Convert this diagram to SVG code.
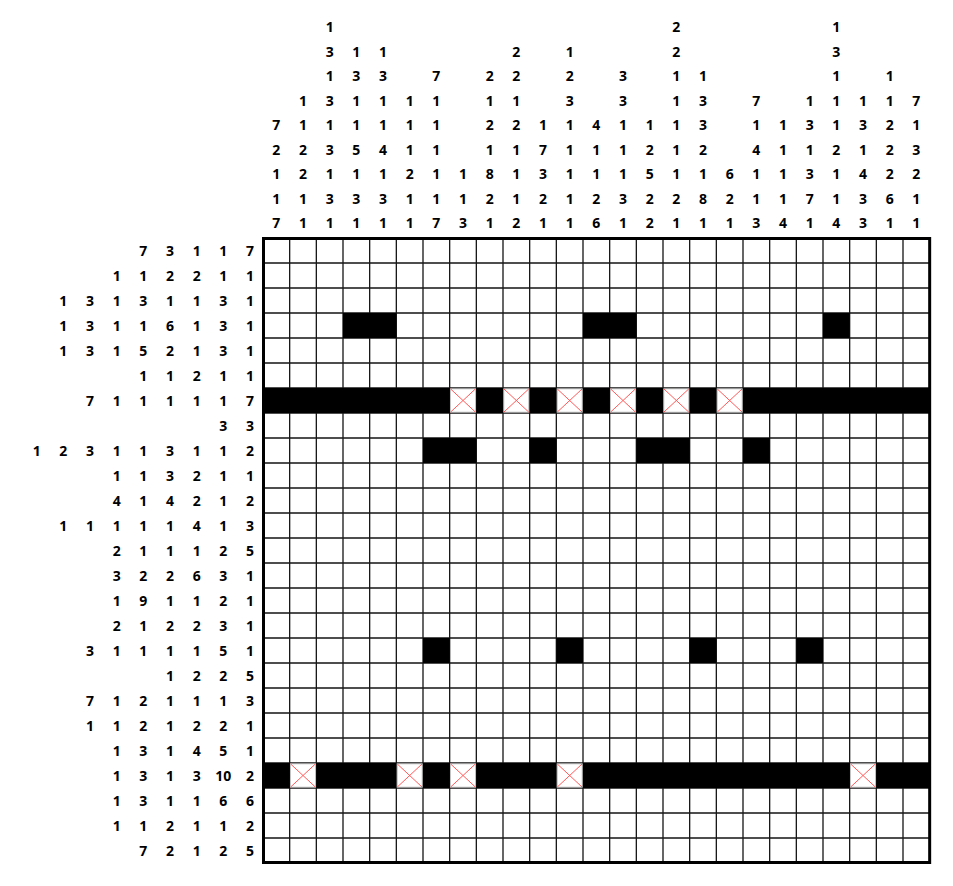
<svg xmlns="http://www.w3.org/2000/svg" width="953" height="886" viewBox="0 0 953 886">
<style>
text{font-family:"Open Sans","Liberation Sans",sans-serif;font-weight:700;font-size:14px;fill:#000;text-anchor:middle}
.f{fill:#000}
.xc{fill:#fff;stroke:#c4c4c4;stroke-width:1}
.xl{stroke:#ff5a5a;stroke-width:1;fill:none}
.g{stroke:#151515;stroke-width:1.3;fill:none}
</style>
<rect width="953" height="886" fill="#fff"/>
<g id="column-clues">
<text x="276.33" y="130">7</text><text x="276.33" y="154.5">2</text><text x="276.33" y="179">1</text><text x="276.33" y="203.5">1</text><text x="276.33" y="228">7</text>
<text x="303" y="105.5">1</text><text x="303" y="130">1</text><text x="303" y="154.5">2</text><text x="303" y="179">2</text><text x="303" y="203.5">1</text><text x="303" y="228">1</text>
<text x="329.67" y="32">1</text><text x="329.67" y="56.5">3</text><text x="329.67" y="81">1</text><text x="329.67" y="105.5">3</text><text x="329.67" y="130">1</text><text x="329.67" y="154.5">3</text><text x="329.67" y="179">1</text><text x="329.67" y="203.5">3</text><text x="329.67" y="228">1</text>
<text x="356.33" y="56.5">1</text><text x="356.33" y="81">3</text><text x="356.33" y="105.5">1</text><text x="356.33" y="130">1</text><text x="356.33" y="154.5">5</text><text x="356.33" y="179">1</text><text x="356.33" y="203.5">3</text><text x="356.33" y="228">1</text>
<text x="383" y="56.5">1</text><text x="383" y="81">3</text><text x="383" y="105.5">1</text><text x="383" y="130">1</text><text x="383" y="154.5">4</text><text x="383" y="179">1</text><text x="383" y="203.5">3</text><text x="383" y="228">1</text>
<text x="409.67" y="105.5">1</text><text x="409.67" y="130">1</text><text x="409.67" y="154.5">1</text><text x="409.67" y="179">2</text><text x="409.67" y="203.5">1</text><text x="409.67" y="228">1</text>
<text x="436.33" y="81">7</text><text x="436.33" y="105.5">1</text><text x="436.33" y="130">1</text><text x="436.33" y="154.5">1</text><text x="436.33" y="179">1</text><text x="436.33" y="203.5">1</text><text x="436.33" y="228">7</text>
<text x="463" y="179">1</text><text x="463" y="203.5">1</text><text x="463" y="228">3</text>
<text x="489.67" y="81">2</text><text x="489.67" y="105.5">1</text><text x="489.67" y="130">2</text><text x="489.67" y="154.5">1</text><text x="489.67" y="179">8</text><text x="489.67" y="203.5">2</text><text x="489.67" y="228">1</text>
<text x="516.33" y="56.5">2</text><text x="516.33" y="81">2</text><text x="516.33" y="105.5">1</text><text x="516.33" y="130">2</text><text x="516.33" y="154.5">1</text><text x="516.33" y="179">1</text><text x="516.33" y="203.5">1</text><text x="516.33" y="228">2</text>
<text x="543" y="130">1</text><text x="543" y="154.5">7</text><text x="543" y="179">3</text><text x="543" y="203.5">2</text><text x="543" y="228">1</text>
<text x="569.67" y="56.5">1</text><text x="569.67" y="81">2</text><text x="569.67" y="105.5">3</text><text x="569.67" y="130">1</text><text x="569.67" y="154.5">1</text><text x="569.67" y="179">1</text><text x="569.67" y="203.5">1</text><text x="569.67" y="228">1</text>
<text x="596.33" y="130">4</text><text x="596.33" y="154.5">1</text><text x="596.33" y="179">1</text><text x="596.33" y="203.5">2</text><text x="596.33" y="228">6</text>
<text x="623" y="81">3</text><text x="623" y="105.5">3</text><text x="623" y="130">1</text><text x="623" y="154.5">1</text><text x="623" y="179">1</text><text x="623" y="203.5">3</text><text x="623" y="228">1</text>
<text x="649.67" y="130">1</text><text x="649.67" y="154.5">2</text><text x="649.67" y="179">5</text><text x="649.67" y="203.5">2</text><text x="649.67" y="228">2</text>
<text x="676.33" y="32">2</text><text x="676.33" y="56.5">2</text><text x="676.33" y="81">1</text><text x="676.33" y="105.5">1</text><text x="676.33" y="130">1</text><text x="676.33" y="154.5">1</text><text x="676.33" y="179">1</text><text x="676.33" y="203.5">2</text><text x="676.33" y="228">1</text>
<text x="703" y="81">1</text><text x="703" y="105.5">3</text><text x="703" y="130">3</text><text x="703" y="154.5">2</text><text x="703" y="179">1</text><text x="703" y="203.5">8</text><text x="703" y="228">1</text>
<text x="729.67" y="179">6</text><text x="729.67" y="203.5">2</text><text x="729.67" y="228">1</text>
<text x="756.33" y="105.5">7</text><text x="756.33" y="130">1</text><text x="756.33" y="154.5">4</text><text x="756.33" y="179">1</text><text x="756.33" y="203.5">1</text><text x="756.33" y="228">3</text>
<text x="783" y="130">1</text><text x="783" y="154.5">1</text><text x="783" y="179">1</text><text x="783" y="203.5">1</text><text x="783" y="228">4</text>
<text x="809.67" y="105.5">1</text><text x="809.67" y="130">3</text><text x="809.67" y="154.5">1</text><text x="809.67" y="179">3</text><text x="809.67" y="203.5">7</text><text x="809.67" y="228">1</text>
<text x="836.33" y="32">1</text><text x="836.33" y="56.5">3</text><text x="836.33" y="81">1</text><text x="836.33" y="105.5">1</text><text x="836.33" y="130">1</text><text x="836.33" y="154.5">2</text><text x="836.33" y="179">1</text><text x="836.33" y="203.5">1</text><text x="836.33" y="228">4</text>
<text x="863" y="105.5">1</text><text x="863" y="130">3</text><text x="863" y="154.5">1</text><text x="863" y="179">4</text><text x="863" y="203.5">3</text><text x="863" y="228">3</text>
<text x="889.67" y="81">1</text><text x="889.67" y="105.5">1</text><text x="889.67" y="130">2</text><text x="889.67" y="154.5">2</text><text x="889.67" y="179">2</text><text x="889.67" y="203.5">6</text><text x="889.67" y="228">1</text>
<text x="916.33" y="105.5">7</text><text x="916.33" y="130">1</text><text x="916.33" y="154.5">3</text><text x="916.33" y="179">2</text><text x="916.33" y="203.5">1</text><text x="916.33" y="228">1</text>
</g>
<g id="row-clues">
<text x="143.33" y="255.5">7</text><text x="170" y="255.5">3</text><text x="196.67" y="255.5">1</text><text x="223.33" y="255.5">1</text><text x="250" y="255.5">7</text>
<text x="116.67" y="280.5">1</text><text x="143.33" y="280.5">1</text><text x="170" y="280.5">2</text><text x="196.67" y="280.5">2</text><text x="223.33" y="280.5">1</text><text x="250" y="280.5">1</text>
<text x="63.33" y="305.5">1</text><text x="90" y="305.5">3</text><text x="116.67" y="305.5">1</text><text x="143.33" y="305.5">3</text><text x="170" y="305.5">1</text><text x="196.67" y="305.5">1</text><text x="223.33" y="305.5">3</text><text x="250" y="305.5">1</text>
<text x="63.33" y="330.5">1</text><text x="90" y="330.5">3</text><text x="116.67" y="330.5">1</text><text x="143.33" y="330.5">1</text><text x="170" y="330.5">6</text><text x="196.67" y="330.5">1</text><text x="223.33" y="330.5">3</text><text x="250" y="330.5">1</text>
<text x="63.33" y="355.5">1</text><text x="90" y="355.5">3</text><text x="116.67" y="355.5">1</text><text x="143.33" y="355.5">5</text><text x="170" y="355.5">2</text><text x="196.67" y="355.5">1</text><text x="223.33" y="355.5">3</text><text x="250" y="355.5">1</text>
<text x="143.33" y="380.5">1</text><text x="170" y="380.5">1</text><text x="196.67" y="380.5">2</text><text x="223.33" y="380.5">1</text><text x="250" y="380.5">1</text>
<text x="90" y="405.5">7</text><text x="116.67" y="405.5">1</text><text x="143.33" y="405.5">1</text><text x="170" y="405.5">1</text><text x="196.67" y="405.5">1</text><text x="223.33" y="405.5">1</text><text x="250" y="405.5">7</text>
<text x="223.33" y="430.5">3</text><text x="250" y="430.5">3</text>
<text x="36.67" y="455.5">1</text><text x="63.33" y="455.5">2</text><text x="90" y="455.5">3</text><text x="116.67" y="455.5">1</text><text x="143.33" y="455.5">1</text><text x="170" y="455.5">3</text><text x="196.67" y="455.5">1</text><text x="223.33" y="455.5">1</text><text x="250" y="455.5">2</text>
<text x="116.67" y="480.5">1</text><text x="143.33" y="480.5">1</text><text x="170" y="480.5">3</text><text x="196.67" y="480.5">2</text><text x="223.33" y="480.5">1</text><text x="250" y="480.5">1</text>
<text x="116.67" y="505.5">4</text><text x="143.33" y="505.5">1</text><text x="170" y="505.5">4</text><text x="196.67" y="505.5">2</text><text x="223.33" y="505.5">1</text><text x="250" y="505.5">2</text>
<text x="63.33" y="530.5">1</text><text x="90" y="530.5">1</text><text x="116.67" y="530.5">1</text><text x="143.33" y="530.5">1</text><text x="170" y="530.5">1</text><text x="196.67" y="530.5">4</text><text x="223.33" y="530.5">1</text><text x="250" y="530.5">3</text>
<text x="116.67" y="555.5">2</text><text x="143.33" y="555.5">1</text><text x="170" y="555.5">1</text><text x="196.67" y="555.5">1</text><text x="223.33" y="555.5">2</text><text x="250" y="555.5">5</text>
<text x="116.67" y="580.5">3</text><text x="143.33" y="580.5">2</text><text x="170" y="580.5">2</text><text x="196.67" y="580.5">6</text><text x="223.33" y="580.5">3</text><text x="250" y="580.5">1</text>
<text x="116.67" y="605.5">1</text><text x="143.33" y="605.5">9</text><text x="170" y="605.5">1</text><text x="196.67" y="605.5">1</text><text x="223.33" y="605.5">2</text><text x="250" y="605.5">1</text>
<text x="116.67" y="630.5">2</text><text x="143.33" y="630.5">1</text><text x="170" y="630.5">2</text><text x="196.67" y="630.5">2</text><text x="223.33" y="630.5">3</text><text x="250" y="630.5">1</text>
<text x="90" y="655.5">3</text><text x="116.67" y="655.5">1</text><text x="143.33" y="655.5">1</text><text x="170" y="655.5">1</text><text x="196.67" y="655.5">1</text><text x="223.33" y="655.5">5</text><text x="250" y="655.5">1</text>
<text x="170" y="680.5">1</text><text x="196.67" y="680.5">2</text><text x="223.33" y="680.5">2</text><text x="250" y="680.5">5</text>
<text x="90" y="705.5">7</text><text x="116.67" y="705.5">1</text><text x="143.33" y="705.5">2</text><text x="170" y="705.5">1</text><text x="196.67" y="705.5">1</text><text x="223.33" y="705.5">1</text><text x="250" y="705.5">3</text>
<text x="90" y="730.5">1</text><text x="116.67" y="730.5">1</text><text x="143.33" y="730.5">2</text><text x="170" y="730.5">1</text><text x="196.67" y="730.5">2</text><text x="223.33" y="730.5">2</text><text x="250" y="730.5">1</text>
<text x="116.67" y="755.5">1</text><text x="143.33" y="755.5">3</text><text x="170" y="755.5">1</text><text x="196.67" y="755.5">4</text><text x="223.33" y="755.5">5</text><text x="250" y="755.5">1</text>
<text x="116.67" y="780.5">1</text><text x="143.33" y="780.5">3</text><text x="170" y="780.5">1</text><text x="196.67" y="780.5">3</text><text x="223.33" y="780.5">10</text><text x="250" y="780.5">2</text>
<text x="116.67" y="805.5">1</text><text x="143.33" y="805.5">3</text><text x="170" y="805.5">1</text><text x="196.67" y="805.5">1</text><text x="223.33" y="805.5">6</text><text x="250" y="805.5">6</text>
<text x="116.67" y="830.5">1</text><text x="143.33" y="830.5">1</text><text x="170" y="830.5">2</text><text x="196.67" y="830.5">1</text><text x="223.33" y="830.5">1</text><text x="250" y="830.5">2</text>
<text x="143.33" y="855.5">7</text><text x="170" y="855.5">2</text><text x="196.67" y="855.5">1</text><text x="223.33" y="855.5">2</text><text x="250" y="855.5">5</text>
</g>
<g id="grid">
<rect x="263" y="238" width="666.67" height="625" fill="#fff"/>
<path class="g" d="M289.67 238V863M316.33 238V863M343 238V863M369.67 238V863M396.33 238V863M423 238V863M449.67 238V863M476.33 238V863M503 238V863M529.67 238V863M556.33 238V863M583 238V863M609.67 238V863M636.33 238V863M663 238V863M689.67 238V863M716.33 238V863M743 238V863M769.67 238V863M796.33 238V863M823 238V863M849.67 238V863M876.33 238V863M903 238V863M263 263H929.67M263 288H929.67M263 313H929.67M263 338H929.67M263 363H929.67M263 388H929.67M263 413H929.67M263 438H929.67M263 463H929.67M263 488H929.67M263 513H929.67M263 538H929.67M263 563H929.67M263 588H929.67M263 613H929.67M263 638H929.67M263 663H929.67M263 688H929.67M263 713H929.67M263 738H929.67M263 763H929.67M263 788H929.67M263 813H929.67M263 838H929.67"/>
<g id="filled-cells" class="f">
<rect x="343" y="313" width="53.33" height="25"/>
<rect x="583" y="313" width="53.33" height="25"/>
<rect x="823" y="313" width="26.67" height="25"/>
<rect x="263" y="388" width="666.67" height="25"/>
<rect x="423" y="438" width="53.33" height="25"/>
<rect x="529.67" y="438" width="26.67" height="25"/>
<rect x="636.33" y="438" width="53.33" height="25"/>
<rect x="743" y="438" width="26.67" height="25"/>
<rect x="423" y="638" width="26.67" height="25"/>
<rect x="556.33" y="638" width="26.67" height="25"/>
<rect x="689.67" y="638" width="26.67" height="25"/>
<rect x="796.33" y="638" width="26.67" height="25"/>
<rect x="263" y="763" width="666.67" height="25"/>
</g>
<g id="crossed-cells">
<g transform="translate(449.67,388)"><rect class="xc" x="0.8" y="0.8" width="25.07" height="23.4"/><path class="xl" d="M1 1L25.67 24M25.67 1L1 24"/></g>
<g transform="translate(503,388)"><rect class="xc" x="0.8" y="0.8" width="25.07" height="23.4"/><path class="xl" d="M1 1L25.67 24M25.67 1L1 24"/></g>
<g transform="translate(556.33,388)"><rect class="xc" x="0.8" y="0.8" width="25.07" height="23.4"/><path class="xl" d="M1 1L25.67 24M25.67 1L1 24"/></g>
<g transform="translate(609.67,388)"><rect class="xc" x="0.8" y="0.8" width="25.07" height="23.4"/><path class="xl" d="M1 1L25.67 24M25.67 1L1 24"/></g>
<g transform="translate(663,388)"><rect class="xc" x="0.8" y="0.8" width="25.07" height="23.4"/><path class="xl" d="M1 1L25.67 24M25.67 1L1 24"/></g>
<g transform="translate(716.33,388)"><rect class="xc" x="0.8" y="0.8" width="25.07" height="23.4"/><path class="xl" d="M1 1L25.67 24M25.67 1L1 24"/></g>
<g transform="translate(289.67,763)"><rect class="xc" x="0.8" y="0.8" width="25.07" height="23.4"/><path class="xl" d="M1 1L25.67 24M25.67 1L1 24"/></g>
<g transform="translate(396.33,763)"><rect class="xc" x="0.8" y="0.8" width="25.07" height="23.4"/><path class="xl" d="M1 1L25.67 24M25.67 1L1 24"/></g>
<g transform="translate(449.67,763)"><rect class="xc" x="0.8" y="0.8" width="25.07" height="23.4"/><path class="xl" d="M1 1L25.67 24M25.67 1L1 24"/></g>
<g transform="translate(556.33,763)"><rect class="xc" x="0.8" y="0.8" width="25.07" height="23.4"/><path class="xl" d="M1 1L25.67 24M25.67 1L1 24"/></g>
<g transform="translate(849.67,763)"><rect class="xc" x="0.8" y="0.8" width="25.07" height="23.4"/><path class="xl" d="M1 1L25.67 24M25.67 1L1 24"/></g>
</g>
<rect x="263.5" y="238.5" width="666.17" height="624" fill="none" stroke="#000" stroke-width="3"/>
</g>
</svg>
